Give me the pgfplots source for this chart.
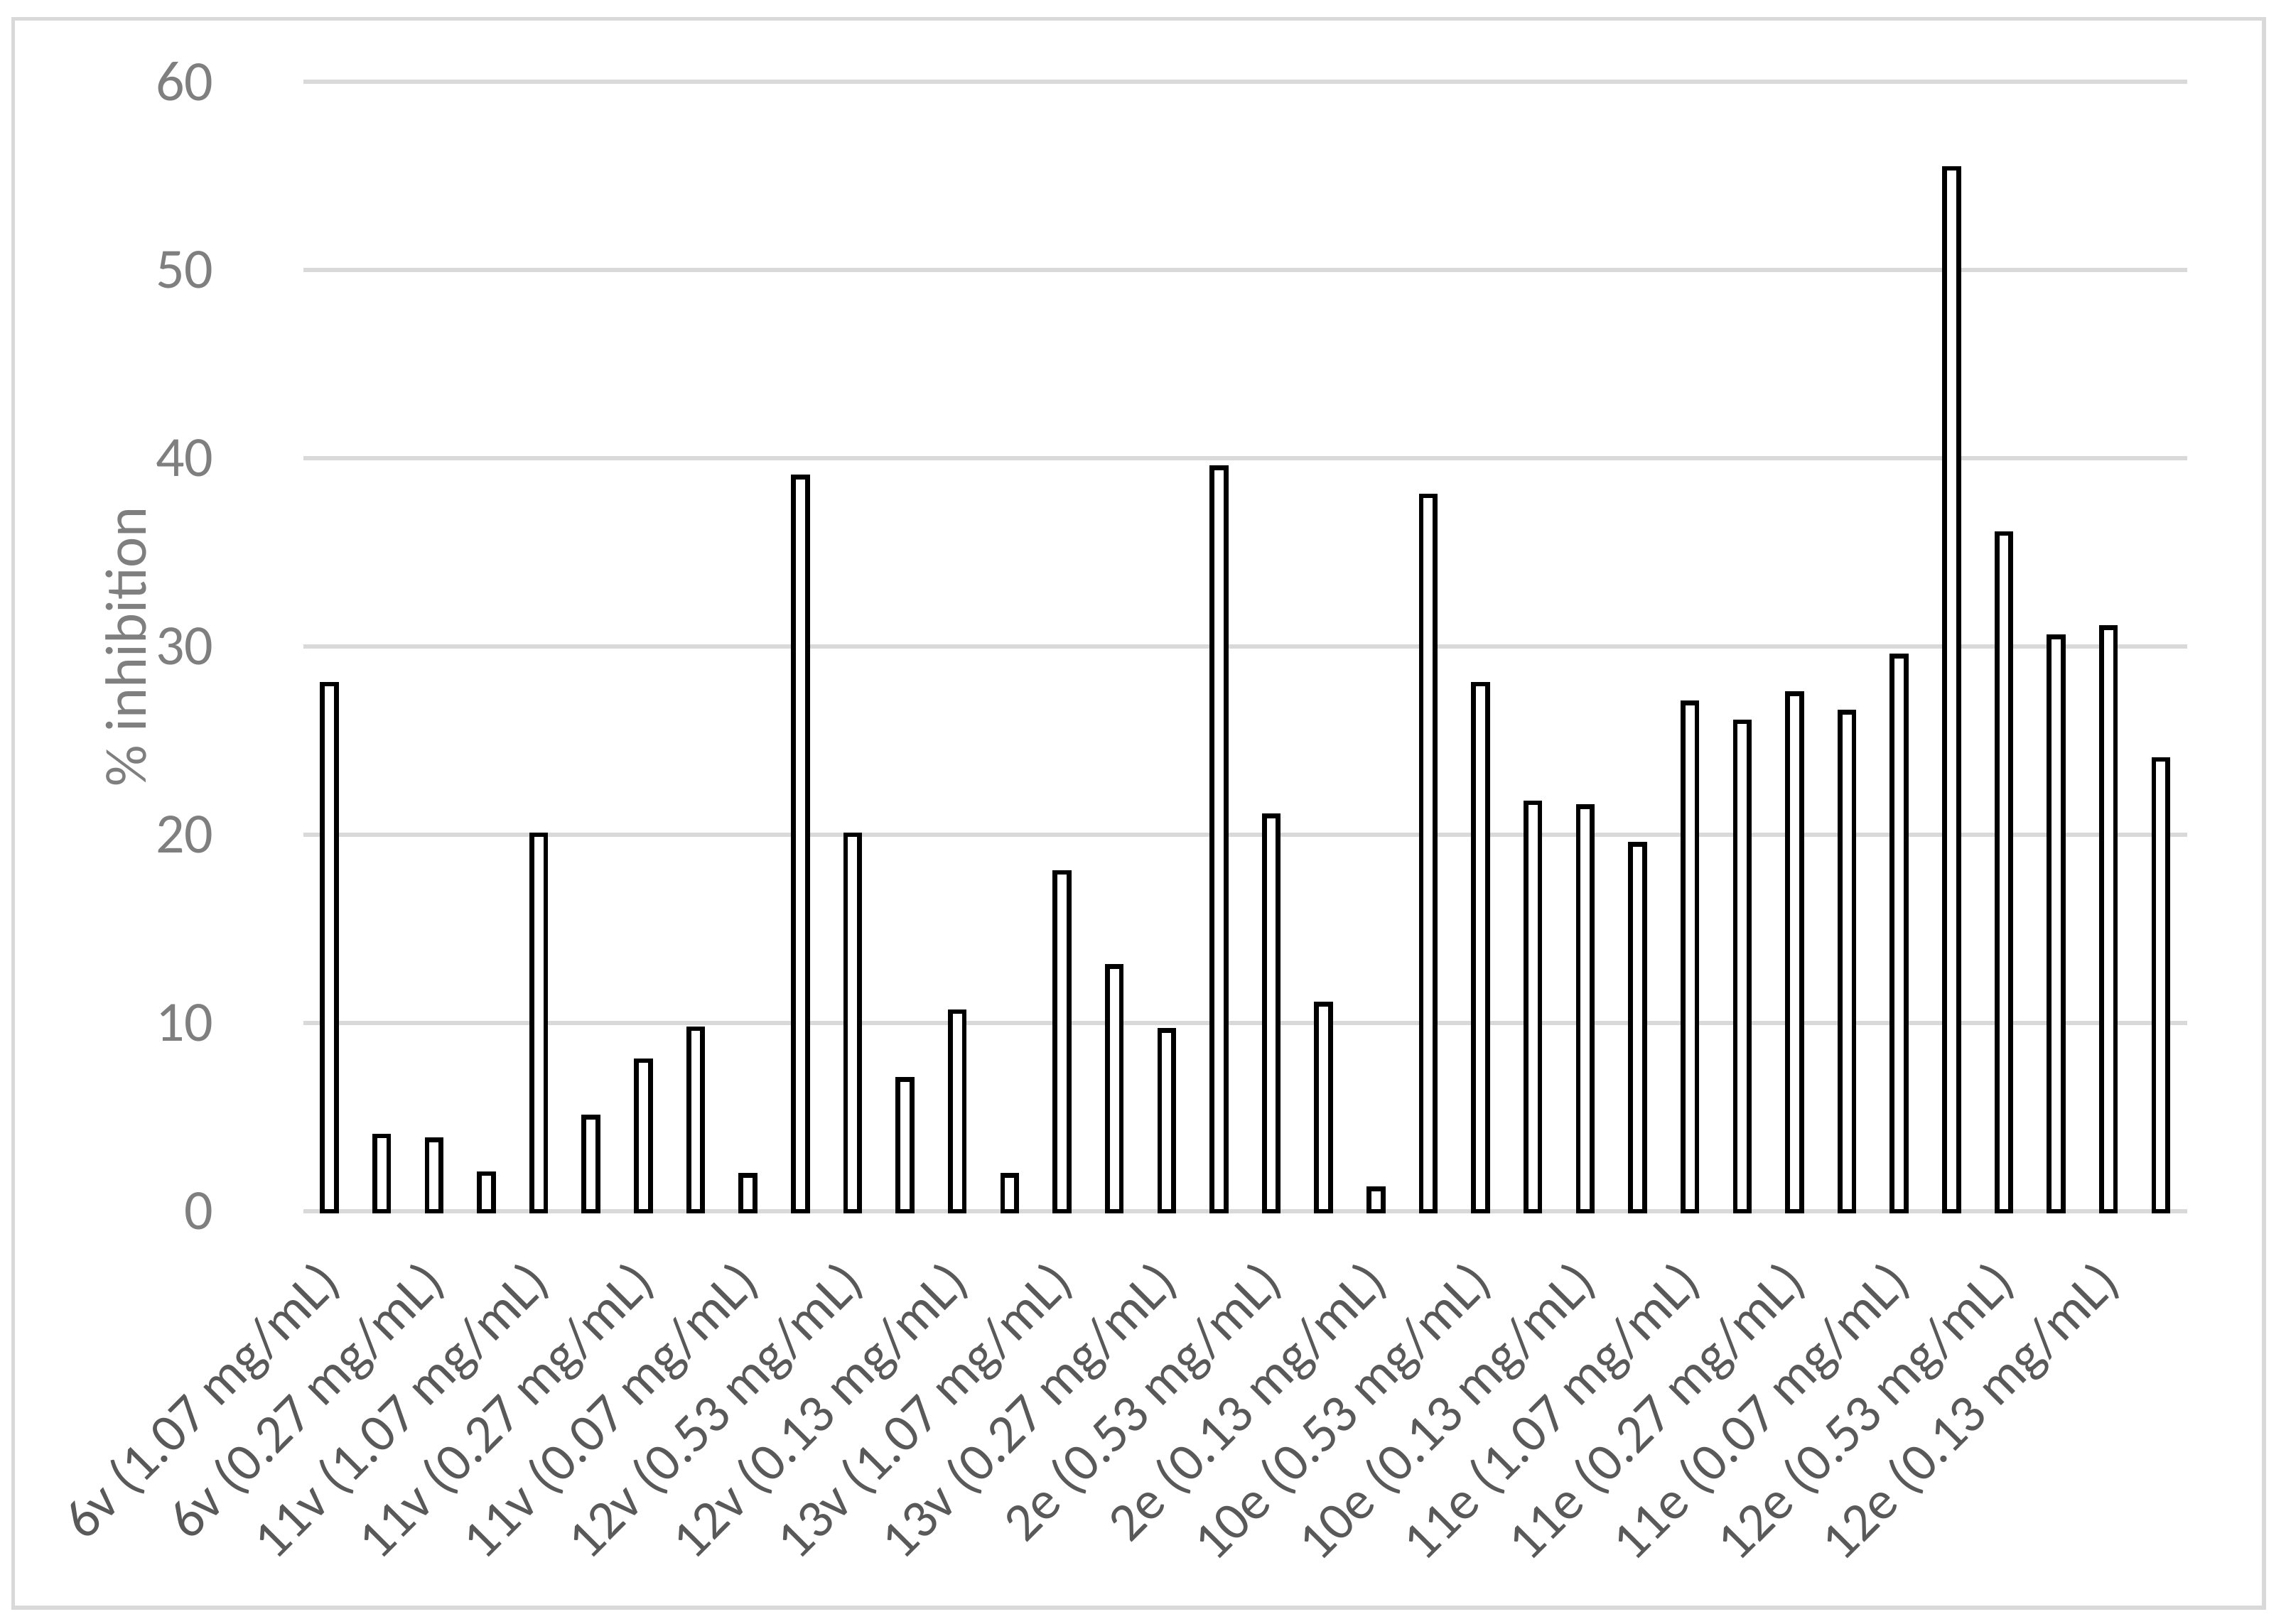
\documentclass[border=0pt]{standalone}
\usepackage{fontspec}
\setmainfont{Carlito}
\usepackage{pgfplots}
\usepackage{pgfplotstable}
\pgfplotsset{compat=1.18}
\definecolor{gridgray}{HTML}{D9D9D9}
\definecolor{xlab}{HTML}{595959}
\definecolor{ylab}{HTML}{7F7F7F}
\pgfplotstableread{
x y
0 28.0
1 4.0
2 3.8
3 2.0
4 20.0
5 5.0
6 8.0
7 9.7
8 1.9
9 39.0
10 20.0
11 7.0
12 10.6
13 1.9
14 18.0
15 13.0
16 9.6
17 39.5
18 21.0
19 11.0
20 1.2
21 38.0
22 28.0
23 21.7
24 21.5
25 19.5
26 27.0
27 26.0
28 27.5
29 26.5
30 29.5
31 55.4
32 36.0
33 30.5
34 31.0
35 24.0
}\datatable
\begin{document}
\begin{tikzpicture}
\path[use as bounding box] (-69.33pt,-94.33pt) rectangle (453.33pt,277pt);
\draw[gridgray, line width=0.9pt] (-66.33pt,-90.67pt) rectangle (448.33pt,272.67pt);
\begin{axis}[
  at={(0,0)}, anchor=south west,
  scale only axis,
  width=430.7pt, height=258.3pt,
  xmin=-0.5, xmax=35.5,
  ymin=0, ymax=60,
  ytick={0,10,...,60},
  xtick={0,2,...,34},
  xticklabels={6v (1.07 mg/mL),6v (0.27 mg/mL),11v (1.07 mg/mL),11v (0.27 mg/mL),11v (0.07 mg/mL),12v (0.53 mg/mL),12v (0.13 mg/mL),13v (1.07 mg/mL),13v (0.27 mg/mL),2e (0.53 mg/mL),2e (0.13 mg/mL),10e (0.53 mg/mL),10e (0.13 mg/mL),11e (1.07 mg/mL),11e (0.27 mg/mL),11e (0.07 mg/mL),12e (0.53 mg/mL),12e (0.13 mg/mL)},
  axis line style={draw=none},
  axis x line*=bottom,
  axis y line*=left,
  major tick length=0pt,
  tick style={draw=none},
  ymajorgrids,
  grid style={gridgray, line width=1pt},
  /pgf/number format/assume math mode=true,
  xticklabel style={font=\fontsize{12.4}{15}\selectfont, text=xlab, xshift=3pt, yshift=-12pt, rotate=45, anchor=east},
  yticklabel style={font=\fontsize{13}{15}\selectfont, text=ylab, anchor=east, xshift=-17pt},
  ylabel={\% inhibition},
  every axis y label/.style={at={(rel axis cs:0,0.5)}, xshift=-40.5pt, rotate=90, anchor=center, font=\fontsize{13.3}{15}\selectfont, text=ylab},
  clip=false,
]
\draw[gridgray, line width=1pt] (axis cs:-0.5,0) -- (axis cs:35.5,0);
\addplot[ybar, bar width=3.2pt, draw=black, fill=white, line width=1.1pt] table[x=x,y=y] {\datatable};
\end{axis}
\end{tikzpicture}
\end{document}
